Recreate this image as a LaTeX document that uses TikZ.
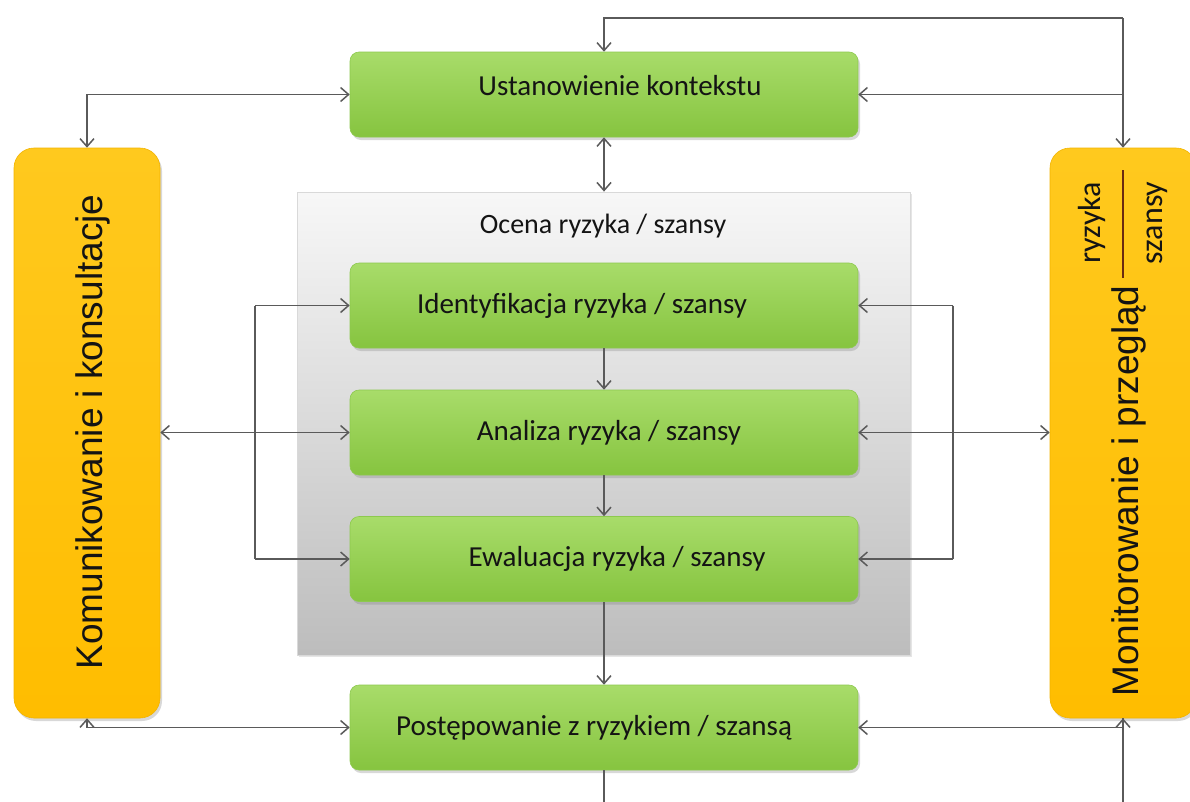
\documentclass[tikz,border=0pt]{standalone}
\usepackage{fontspec}
\setmainfont{Carlito}
\newfontfamily\arialf{Liberation Sans}
\usetikzlibrary{arrows.meta,shadows,calc}
\definecolor{connc}{HTML}{5A5A5A}
\definecolor{gtop}{HTML}{A8DC6A}
\definecolor{gbot}{HTML}{86C43F}
\definecolor{gedge}{HTML}{8DC94E}
\definecolor{ytop}{HTML}{FFC91E}
\definecolor{ybot}{HTML}{FFBD00}
\definecolor{yedge}{HTML}{F2B400}
\definecolor{txtc}{HTML}{141414}
\definecolor{fracc}{HTML}{6A2A10}
\begin{document}
\begin{tikzpicture}[x=1pt,y=-1pt,
  >={Straight Barb[length=8pt,width=14pt]},
  conn/.style={draw=connc,line width=1.5pt},
  greenbox/.style={rounded corners=9pt,minimum width=508pt,minimum height=85pt,inner sep=0pt,
    top color=gtop,bottom color=gbot,draw=gedge,line width=0.6pt,
    drop shadow={shadow xshift=2pt,shadow yshift=-3pt,opacity=0.3},
    font=\fontsize{29}{34}\selectfont,text=txtc},
  bar/.style={rounded corners=20pt,minimum width=146pt,minimum height=570pt,inner sep=0pt,
    top color=ytop,bottom color=ybot,draw=yedge,line width=0.6pt,
    drop shadow={shadow xshift=2pt,shadow yshift=-3pt,opacity=0.3}},
  bartext/.style={font=\arialf\fontsize{37}{44}\selectfont,rotate=90,anchor=base,inner sep=0pt,text=txtc},
  fractext/.style={font=\fontsize{32}{38}\selectfont,rotate=90,inner sep=0pt,text=txtc},
  graybox/.style={minimum width=613pt,minimum height=463pt,inner sep=0pt,
    top color=white!97!black,bottom color=white!74!black,draw=white!85!black,line width=0.8pt,
    drop shadow={shadow xshift=1.5pt,shadow yshift=-2pt,opacity=0.2}},
  lbl/.style={font=\fontsize{28}{34}\selectfont,text=txtc,inner sep=0pt}
]
\useasboundingbox[fill=white] (0,0) rectangle (1190,801);

% assessment frame
\node[graybox] (occ) at (603.5,423.5) {};
\node[lbl] (ocn) at (603,226) {Ocena ryzyka / szansy};

% side bars
\node[bar] (kom) at (87,433) {};
\node[bar] (mon) at (1123,433) {};
\node[bartext] (komt) at (102,432) {Komunikowanie i konsultacje};
\node[bartext] (mont) at (1138,491) {Monitorowanie i przegląd};
\node[fractext] (ryz) at (1092,223) {ryzyka};
\node[fractext] (sza) at (1157,223) {szansy};
\coordinate (fa) at (1123,170);
\coordinate (fb) at (1123,278);
\draw[draw=fracc,line width=1.2pt] (fa) -- (fb);

% process boxes
\node[greenbox] (ctx) at (604,94.5) {\hspace*{32pt}\raisebox{9pt}[\height][\depth]{Ustanowienie kontekstu}};
\node[greenbox] (ide) at (604,305.5) {Identyfikacja ryzyka / szansy\hspace*{44pt}};
\node[greenbox] (ana) at (604,432.5) {\hspace*{10pt}Analiza ryzyka / szansy};
\node[greenbox] (ewa) at (604,559) {\hspace*{26pt}Ewaluacja ryzyka / szansy};
\node[greenbox] (post) at (604,727.5) {Postępowanie z ryzykiem / szansą\hspace*{20pt}};

% helper coordinates
\coordinate (tr) at (1123,18);
\coordinate (lx) at (255,432);
\coordinate (rx) at (953,432);
\coordinate (bb) at (603,812);

% top loop
\draw[conn,->] (tr) -- (mon.north);
\draw[conn,->] (tr) -| (ctx.north);
\draw[conn,->] (mon.north |- ctx.east) -- (ctx.east);
\draw[conn,<->] (ctx.west) -| (kom.north);
\draw[conn,<->] (ctx.south) -- (ctx.south |- occ.north);

% chain
\draw[conn,->] (ide.south) -- (ana.north);
\draw[conn,->] (ana.south) -- (ewa.north);
\draw[conn,->] (ewa.south) -- (post.north);

% left links
\draw[conn,<->] (kom.east |- ana.west) -- (ana.west);
\draw[conn] (ide.west -| lx) -- (ewa.west -| lx);
\draw[conn,->] (ide.west -| lx) -- (ide.west);
\draw[conn,->] (ewa.west -| lx) -- (ewa.west);

% right links
\draw[conn,<->] (ana.east) -- (mon.west |- ana.east);
\draw[conn] (ide.east -| rx) -- (ewa.east -| rx);
\draw[conn,->] (ide.east -| rx) -- (ide.east);
\draw[conn,->] (ewa.east -| rx) -- (ewa.east);

% bottom
\draw[conn,<->] (kom.south) |- (post.west);
\draw[conn,<->] (mon.south) |- (post.east);
\draw[conn] (post.south) -- (post.south |- bb);
\draw[conn] (mon.south) -- (mon.south |- bb);
\end{tikzpicture}
\end{document}
